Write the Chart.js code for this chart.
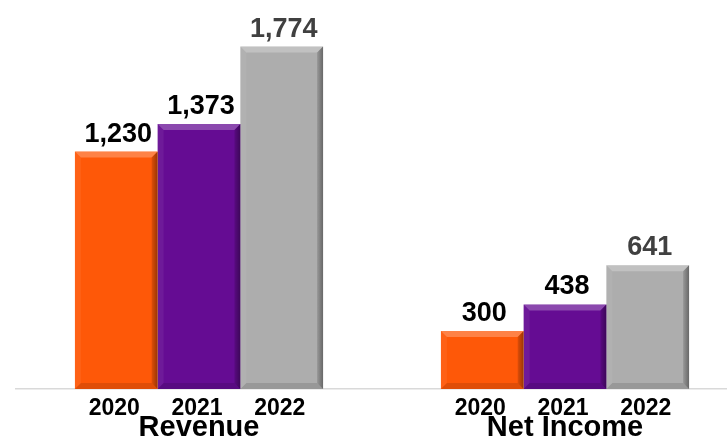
<!DOCTYPE html>
<html>
<head>
<meta charset="utf-8">
<script src="https://cdn.jsdelivr.net/npm/chart.js@4.4.1/dist/chart.umd.min.js"></script>
<style>
  html, body { margin: 0; padding: 0; background: #ffffff; overflow: hidden; }
  #wrap { width: 727px; height: 438px; position: relative; }
</style>
</head>
<body>
<div id="wrap"><canvas id="c" width="727" height="438"></canvas></div>
<script>
// ---- data ----
const categories = ['Revenue', 'Net Income'];
const years = ['2020', '2021', '2022'];
const values2020 = [1230, 300];
const values2021 = [1373, 438];
const values2022 = [1774, 641];
const valueLabelColors = ['#000000', '#000000', '#404040'];
const barColors = ['#FE5808', '#650C93', '#ADADAD'];

const FONT = '"Liberation Sans", Arial, Helvetica, sans-serif';

function fmt(v) { return v.toLocaleString('en-US'); }
function toPoints(arr) { return arr.map((v, i) => ({ x: i, y: v })); }

// bevel overlay + value labels + year labels drawn from the bar elements
const decorPlugin = {
  id: 'decor',
  afterDatasetsDraw(chart) {
    const ctx = chart.ctx;
    chart.data.datasets.forEach((ds, di) => {
      const meta = chart.getDatasetMeta(di);
      meta.data.forEach((bar, i) => {
        const p = bar.getProps(['x', 'y', 'base', 'width'], true);
        const l = p.x - p.width / 2, r = p.x + p.width / 2, t = p.y, b = p.base;
        const e = 6;
        ctx.save();
        // top bevel (light)
        ctx.fillStyle = 'rgba(255,255,255,0.25)';
        ctx.beginPath();
        ctx.moveTo(l, t); ctx.lineTo(r, t); ctx.lineTo(r - e, t + e); ctx.lineTo(l + e, t + e); ctx.closePath();
        ctx.fill();
        // left bevel (slightly light)
        ctx.fillStyle = 'rgba(255,255,255,0.06)';
        ctx.beginPath();
        ctx.moveTo(l, t); ctx.lineTo(l + e, t + e); ctx.lineTo(l + e, b - e); ctx.lineTo(l, b); ctx.closePath();
        ctx.fill();
        // right bevel (dark gradient)
        const g = ctx.createLinearGradient(r - e - 2, 0, r, 0);
        g.addColorStop(0, 'rgba(0,0,0,0.03)');
        g.addColorStop(1, 'rgba(0,0,0,0.4)');
        ctx.fillStyle = g;
        ctx.beginPath();
        ctx.moveTo(r, t); ctx.lineTo(r, b); ctx.lineTo(r - e, b - e); ctx.lineTo(r - e, t + e); ctx.closePath();
        ctx.fill();
        // bottom bevel (dark)
        ctx.fillStyle = 'rgba(0,0,0,0.12)';
        ctx.beginPath();
        ctx.moveTo(l, b); ctx.lineTo(r, b); ctx.lineTo(r - e, b - e); ctx.lineTo(l + e, b - e); ctx.closePath();
        ctx.fill();

        // value label
        ctx.fillStyle = valueLabelColors[di];
        ctx.font = 'bold 27px ' + FONT;
        ctx.textAlign = 'center';
        ctx.textBaseline = 'alphabetic';
        ctx.fillText(fmt(ds.data[i].y), p.x + 2, t - 10);

        // year label under the bar
        ctx.fillStyle = '#000000';
        ctx.font = 'bold 23px ' + FONT;
        ctx.fillText(ds.label, p.x - 2, b + 26);
        ctx.restore();
      });
    });
  }
};

new Chart(document.getElementById('c'), {
  type: 'bar',
  data: {
    datasets: [
      { label: years[0], data: toPoints(values2020), backgroundColor: barColors[0] },
      { label: years[1], data: toPoints(values2021), backgroundColor: barColors[1] },
      { label: years[2], data: toPoints(values2022), backgroundColor: barColors[2] }
    ]
  },
  options: {
    responsive: false,
    animation: false,
    devicePixelRatio: 1,
    layout: { padding: { left: 16, right: 0, top: 0, bottom: 0 } },
    plugins: { legend: { display: false }, tooltip: { enabled: false } },
    datasets: { bar: { categoryPercentage: 0.678, barPercentage: 1.0 } },
    scales: {
      y: { display: false, min: 0, max: 2015 },
      x: {
        type: 'linear',
        min: -0.5,
        max: 1.4426,
        offset: false,
        grid: { display: false, drawTicks: false },
        border: { display: true, color: '#D9D9D9', width: 1.5 },
        afterBuildTicks(scale) { scale.ticks = categories.map((c, i) => ({ value: i })); },
        ticks: {
          color: '#000000',
          font: { family: FONT, size: 29, weight: 'bold' },
          padding: 22,
          maxRotation: 0,
          autoSkip: false,
          callback: (v) => categories[v]
        },
        afterFit(scale) { scale.height = 49; }
      }
    }
  },
  plugins: [decorPlugin]
});
</script>
</body>
</html>
